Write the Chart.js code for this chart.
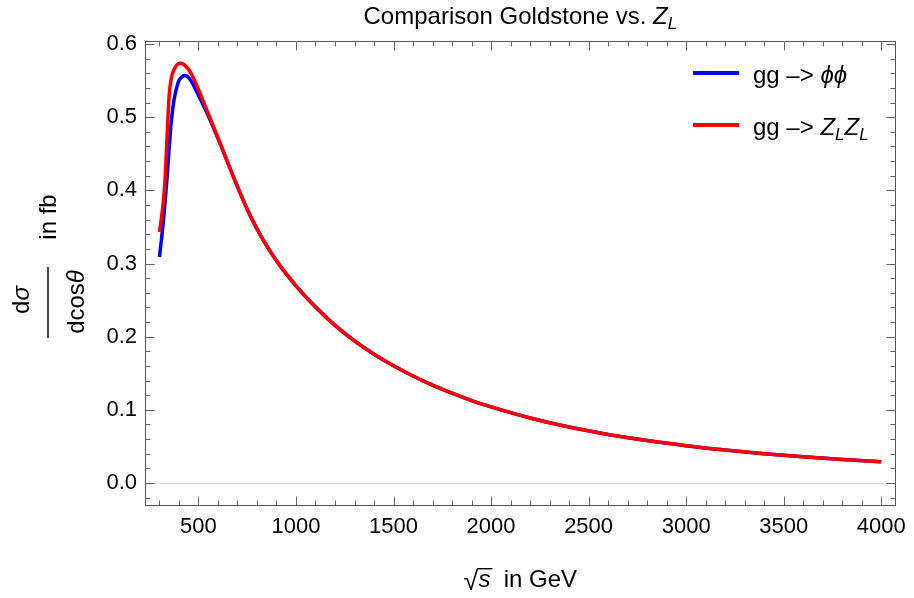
<!DOCTYPE html>
<html><head><meta charset="utf-8">
<script src="https://cdn.jsdelivr.net/npm/chart.js@4/dist/chart.umd.min.js"></script>
<style>html,body{margin:0;padding:0;background:#fff}#wrap{width:914px;height:598px;position:relative}</style>
</head><body><div id="wrap"><canvas id="c" width="914" height="598"></canvas></div>
<script>
// ---- data (sqrt(s) in GeV, dsigma/dcos(theta) in fb) ----
const energyPhi = [300,310,320,330,340,350,360,370,380,390,400,415,430,450,475,500,550,600,650,700,750,800,850,900,950,1000,1100,1200,1300,1400,1500,1600,1700,1800,1900,2000,2200,2400,2600,2800,3000,3200,3400,3600,3800,4000];
const sigmaPhi  = [0.309,0.332,0.357,0.388,0.420,0.458,0.492,0.515,0.531,0.542,0.550,0.555,0.557,0.554,0.5435,0.530,0.502,0.471,0.438,0.405,0.3743,0.3473,0.324,0.3038,0.2858,0.2695,0.2405,0.2155,0.1943,0.1761,0.1603,0.1463,0.1337,0.1227,0.1127,0.1040,0.0889,0.0765,0.0664,0.0580,0.0510,0.0451,0.0401,0.0359,0.0323,0.0292];
const energyZL  = [300,310,320,330,340,350,360,370,385,405,425,450,475,500,550,600,650,700,750,800,850,900,950,1000,1100,1200,1300,1400,1500,1600,1700,1800,1900,2000,2200,2400,2600,2800,3000,3200,3400,3600,3800,4000];
const sigmaZL   = [0.343,0.362,0.385,0.421,0.478,0.530,0.552,0.562,0.570,0.5736,0.572,0.565,0.553,0.538,0.505,0.472,0.438,0.405,0.3743,0.3473,0.324,0.3038,0.2858,0.2695,0.2405,0.2155,0.1943,0.1761,0.1603,0.1463,0.1337,0.1227,0.1127,0.1040,0.0889,0.0765,0.0664,0.0580,0.0510,0.0451,0.0401,0.0359,0.0323,0.0292];
const xTickValues = [500,1000,1500,2000,2500,3000,3500,4000];
const yTickValues = [0.0,0.1,0.2,0.3,0.4,0.5,0.6];
const seriesNames = ['gg –> ϕϕ','gg –> Z_L Z_L'];

const F = '"Liberation Sans", Arial, sans-serif';
const FT = 22;   // tick labels
const FL = 24;   // labels, title, legend

function richWidth(ctx, parts){let w=0;for(const p of parts){ctx.font=p.font;w+=ctx.measureText(p.t).width+(p.dx||0);}return w;}
function drawRich(ctx, parts, x, y, align){
  const w=richWidth(ctx,parts);
  let cx = align==='center' ? x-w/2 : x;
  ctx.textAlign='left';
  for(const p of parts){ctx.font=p.font;ctx.fillText(p.t,cx+(p.dx||0),y+(p.dy||0));cx+=ctx.measureText(p.t).width+(p.dx||0);}
}

const decor = {
  id:'decor',
  beforeDatasetsDraw(chart){
    const {ctx, chartArea:a, scales:{y}} = chart;
    const y0 = Math.round(y.getPixelForValue(0))+0.5;
    ctx.save();ctx.strokeStyle='#d6d6d6';ctx.lineWidth=1;
    ctx.beginPath();ctx.moveTo(a.left,y0);ctx.lineTo(a.right,y0);ctx.stroke();ctx.restore();
  },
  afterDraw(chart){
    const {ctx, chartArea:a, scales:{x,y}} = chart;
    ctx.save();
    ctx.strokeStyle='#555';ctx.lineWidth=1;
    const L=Math.round(a.left)+0.5,R=Math.round(a.right)-0.5,T=Math.round(a.top)+0.5,B=Math.round(a.bottom)-0.5;
    ctx.strokeRect(L,T,R-L,B-T);
    ctx.strokeStyle='#666';
    ctx.beginPath();
    for(let v=100; v<=4100; v+=100){
      const px=Math.round(x.getPixelForValue(v))+0.5;
      if(px<L||px>R) continue;
      const len = (v%500===0)?9:5;
      ctx.moveTo(px,B);ctx.lineTo(px,B-len);
      ctx.moveTo(px,T);ctx.lineTo(px,T+len);
    }
    for(let k=-2; k<=31; k++){
      const v=k*0.02;
      const py=Math.round(y.getPixelForValue(v))+0.5;
      if(py<T||py>B) continue;
      const len = (k%5===0)?9:5;
      ctx.moveTo(L,py);ctx.lineTo(L+len,py);
      ctx.moveTo(R,py);ctx.lineTo(R-len,py);
    }
    ctx.stroke();

    ctx.fillStyle='#000';ctx.textBaseline='alphabetic';
    // title
    drawRich(ctx,[
      {t:'Comparison Goldstone vs. ',font:`${FL}px ${F}`},
      {t:'Z',font:`italic ${FL}px ${F}`},
      {t:'L',font:`italic ${FL-7}px ${F}`,dy:5}
    ],(a.left+a.right)/2,24,'center');

    // legend
    const leg=[{c:'#0000ff',yy:73,parts:[{t:'gg –> ',font:`${FL}px ${F}`},{t:'ϕϕ',font:`italic ${FL}px ${F}`}]},
               {c:'#ff0000',yy:125,parts:[{t:'gg –> ',font:`${FL}px ${F}`},{t:'Z',font:`italic ${FL}px ${F}`},{t:'L',font:`italic ${FL-7}px ${F}`,dy:5},{t:'Z',font:`italic ${FL}px ${F}`},{t:'L',font:`italic ${FL-7}px ${F}`,dy:5}]}];
    for(const it of leg){
      ctx.strokeStyle=it.c;ctx.lineWidth=4;ctx.beginPath();ctx.moveTo(693,it.yy);ctx.lineTo(739,it.yy);ctx.stroke();
      drawRich(ctx,it.parts,753,it.yy+10,'left');
    }

    // x axis label: sqrt(s) in GeV
    {
      const cx=(a.left+a.right)/2, base=587;
      const p1={t:'√',font:`${FL+3}px ${F}`}, p2={t:'s',font:`italic ${FL}px ${F}`}, p3={t:'  in GeV',font:`${FL}px ${F}`};
      const w=richWidth(ctx,[p1,p2,p3]);
      let sx=cx-w/2;
      ctx.font=p1.font;ctx.fillText(p1.t,sx,base+3);
      const m=ctx.measureText(p1.t); const topY=base+3-m.actualBoundingBoxAscent;
      sx+=m.width;
      ctx.font=p2.font;const ws=ctx.measureText(p2.t).width;ctx.fillText(p2.t,sx,base);
      ctx.strokeStyle='#000';ctx.lineWidth=1.4;ctx.beginPath();ctx.moveTo(sx-1,topY+0.7);ctx.lineTo(sx+ws+2,topY+0.7);ctx.stroke();
      sx+=ws;
      ctx.font=p3.font;ctx.fillText(p3.t,sx,base);
    }

    // y axis label (rotated fraction)
    ctx.save();ctx.rotate(-Math.PI/2);
    drawRich(ctx,[{t:'d',font:`${FL}px ${F}`},{t:'σ',font:`italic ${FL}px ${F}`}],-300,29,'center');
    ctx.strokeStyle='#000';ctx.lineWidth=1.4;ctx.beginPath();ctx.moveTo(-338,48);ctx.lineTo(-267,48);ctx.stroke();
    drawRich(ctx,[{t:'dcos',font:`${FL}px ${F}`},{t:'θ',font:`italic ${FL}px ${F}`}],-302,84,'center');
    drawRich(ctx,[{t:'in fb',font:`${FL}px ${F}`}],-217,56,'center');
    ctx.restore();
    ctx.restore();
  }
};

const tickFont={family:'"Liberation Sans", Arial, sans-serif',size:FT};
new Chart(document.getElementById('c'),{
  type:'line',
  data:{datasets:[
    {label:seriesNames[0],data:energyPhi.map((e,i)=>({x:e,y:sigmaPhi[i]})),borderColor:'#0000ff',borderWidth:3.5,pointRadius:0,fill:false,cubicInterpolationMode:'monotone',order:1},
    {label:seriesNames[1],data:energyZL.map((e,i)=>({x:e,y:sigmaZL[i]})),borderColor:'#ff0000',borderWidth:3.5,pointRadius:0,fill:false,cubicInterpolationMode:'monotone',order:0}
  ]},
  options:{
    responsive:false,animation:false,devicePixelRatio:1,
    layout:{padding:{top:41,right:16,left:0,bottom:0}},
    plugins:{legend:{display:false},title:{display:false},tooltip:{enabled:false}},
    scales:{
      x:{type:'linear',min:226,max:4074,
         grid:{display:false,drawTicks:false},border:{display:false},
         afterBuildTicks:s=>{s.ticks=xTickValues.map(v=>({value:v}));},
         afterFit:s=>{s.height=92;},
         ticks:{font:tickFont,color:'#000',padding:8,maxRotation:0,autoSkip:false,callback:v=>String(v)}},
      y:{type:'linear',min:-0.0314,max:0.6041,
         grid:{display:false,drawTicks:false},border:{display:false},
         afterBuildTicks:s=>{s.ticks=yTickValues.map(v=>({value:v}));},
         afterFit:s=>{s.width=145;},
         ticks:{font:tickFont,color:'#000',padding:8,autoSkip:false,callback:v=>Number(v).toFixed(1)}}
    }
  },
  plugins:[decor]
});
</script></body></html>
